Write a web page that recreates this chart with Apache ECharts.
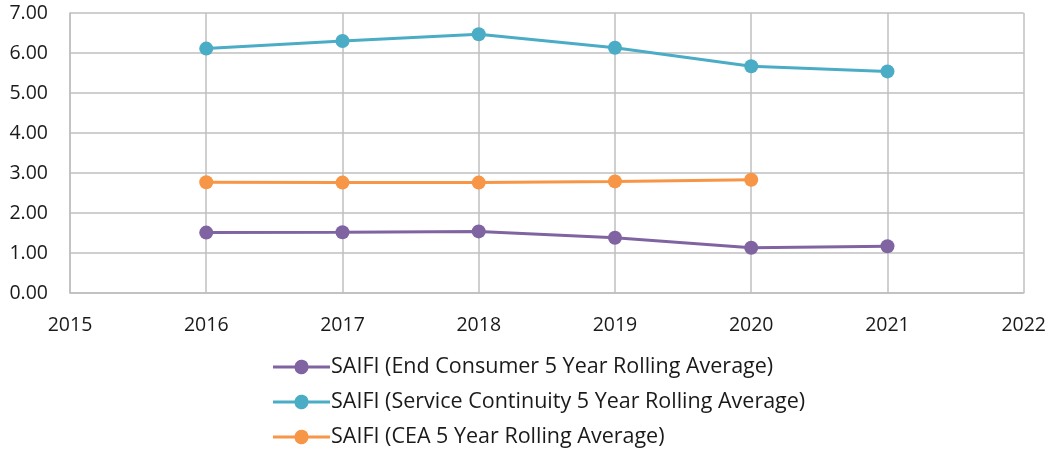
<!DOCTYPE html>
<html><head><meta charset="utf-8">
<script src="https://cdn.jsdelivr.net/npm/echarts@6/dist/echarts.min.js"></script>
<style>html,body{margin:0;padding:0;background:#fff}#c{width:1049px;height:453px}</style>
</head><body><div id="c"></div>
<script>
const years = [2016, 2017, 2018, 2019, 2020, 2021];
const endConsumer = [1.51, 1.52, 1.54, 1.38, 1.13, 1.17];
const serviceContinuity = [6.11, 6.30, 6.47, 6.13, 5.67, 5.54];
const cea = [2.77, 2.76, 2.76, 2.79, 2.83];
const seriesNames = [
  'SAIFI (End Consumer 5 Year Rolling Average)',
  'SAIFI (Service Continuity 5 Year Rolling Average)',
  'SAIFI (CEA 5 Year Rolling Average)'
];
const colors = ['#8064A2', '#4BACC6', '#F79646'];
const font = '"Open Sans", sans-serif';
const legendIcon = 'path://M0,6.5H21.6A7,7 0 0,1 35.4,6.5H57V9.5H35.4A7,7 0 0,1 21.6,9.5H0Z';
function pts(vals){ return vals.map((v,i)=>[years[i], v]); }
const chart = echarts.init(document.getElementById('c'));
const mk = (name, vals, color) => ({
  name, type: 'line', data: pts(vals), color,
  symbol: 'circle', symbolSize: 14,
  lineStyle: {width: 3, color}, itemStyle: {color},
  animation: false
});
chart.setOption({
  animation: false,
  grid: {left: 70, right: 22, top: 13, bottom: 160},
  xAxis: {
    type: 'value', min: 2015, max: 2022, interval: 1,
    axisLine: {show: true, lineStyle: {color: '#BFBFBF', width: 1.5}},
    axisTick: {show: false},
    splitLine: {show: true, lineStyle: {color: '#BFBFBF', width: 1.5}},
    axisLabel: {color: '#1a1a1a', fontSize: 19.5, fontFamily: font, margin: 22,
      formatter: v => String(v)}
  },
  yAxis: {
    type: 'value', min: 0, max: 7, interval: 1,
    axisLine: {show: true, lineStyle: {color: '#BFBFBF', width: 1.5}},
    axisTick: {show: false},
    splitLine: {show: true, lineStyle: {color: '#BFBFBF', width: 1.5}},
    axisLabel: {color: '#1a1a1a', fontSize: 19.5, fontFamily: font, margin: 22,
      formatter: v => v.toFixed(2)}
  },
  legend: {
    orient: 'vertical', left: 273, top: 356, height: 110, padding: 0, itemGap: 13,
    itemWidth: 57, itemHeight: 16,
    icon: legendIcon,
    itemStyle: {borderWidth: 0},
    textStyle: {fontSize: 21.5, fontFamily: font, color: '#1a1a1a', padding: [0,0,0,-4]},
    data: seriesNames
  },
  series: [
    mk(seriesNames[0], endConsumer, colors[0]),
    mk(seriesNames[1], serviceContinuity, colors[1]),
    mk(seriesNames[2], cea, colors[2])
  ]
});
</script></body></html>
